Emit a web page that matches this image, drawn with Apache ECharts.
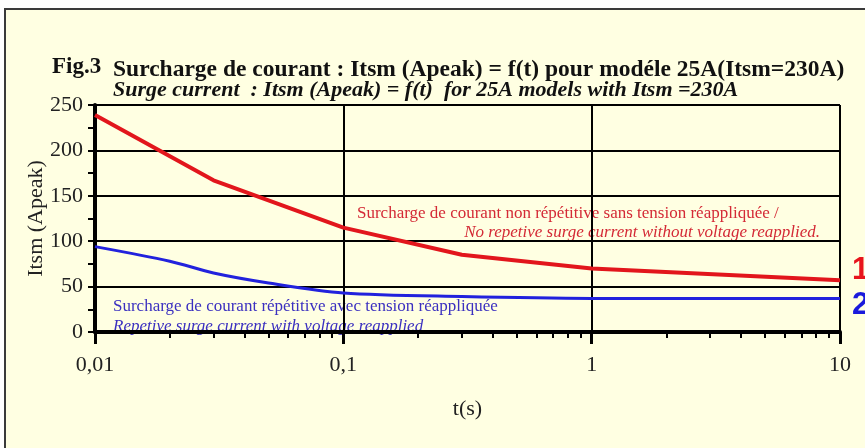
<!DOCTYPE html>
<html>
<head>
<meta charset="utf-8">
<script src="https://cdn.jsdelivr.net/npm/echarts@6/dist/echarts.min.js"></script>
<style>
  html, body { margin: 0; padding: 0; background: #fff; }
  #chart { width: 865px; height: 448px; }
</style>
</head>
<body>
<div id="chart"></div>
<script>
// curve 1 : non repetitive surge current (red)
var curve1 = [[0.01, 239], [0.03, 167], [0.1, 115], [0.3, 85], [1, 70], [10, 57]];
// curve 2 : repetitive surge current (blue)
var curve2 = [[0.01, 94], [0.02, 78], [0.03, 65], [0.05, 54], [0.1, 43], [0.3, 39], [1, 37], [10, 37]];
var xTickLabels = ['0,01', '0,1', '1', '10'];
var xMinorTicks = [0.02, 0.03, 0.04, 0.05, 0.06, 0.07, 0.08, 0.09,
	0.2, 0.3, 0.4, 0.5, 0.6, 0.7, 0.8, 0.9,
	2, 3, 4, 5, 6, 7, 8, 9];

var serif = '"Liberation Serif", "Times New Roman", serif';
var red = '#e2161c';
var blue = '#2222dd';

var myChart = echarts.init(document.getElementById('chart'), null, { renderer: 'canvas' });
var option = {
	backgroundColor: '#fff',
	animation: false,
	grid: {
		left: 95,
		right: 25,
		top: 105,
		bottom: 116
	},
	graphic: [
		{
			type: 'rect', z: -10,
			shape: { x: 5, y: 9, width: 900, height: 500 },
			style: { fill: '#ffffe2', stroke: '#3a3a3a', lineWidth: 2 }
		},
		{
			type: 'text', left: 52, top: 56, z: 5,
			style: { text: 'Fig.3', font: 'bold 23px ' + serif, fill: '#111' }
		},
		{
			type: 'text', left: 113, top: 58, z: 5,
			style: { text: 'Surcharge de courant : Itsm (Apeak) = f(t) pour modéle 25A(Itsm=230A)', font: 'bold 23.5px ' + serif, fill: '#111' }
		},
		{
			type: 'text', left: 113, top: 79, z: 5,
			style: { text: 'Surge current  : Itsm (Apeak) = f(t)  for 25A models with Itsm =230A', font: 'italic bold 22px ' + serif, fill: '#111' }
		},
		{
			type: 'text', left: 357, top: 205, z: -1,
			style: { text: 'Surcharge de courant non répétitive sans tension réappliquée /', font: '17px ' + serif, fill: '#d42a36' }
		},
		{
			type: 'text', right: 45, top: 224, z: -1,
			style: { text: 'No repetive surge current without voltage reapplied.', font: 'italic 17px ' + serif, fill: '#d42a36' }
		},
		{
			type: 'text', left: 113, top: 298, z: -1,
			style: { text: 'Surcharge de courant répétitive avec tension réappliquée', font: '17px ' + serif, fill: '#3b30c0' }
		},
		{
			type: 'text', left: 113, top: 318, z: -1,
			style: { text: 'Repetive surge current with voltage reapplied', font: 'italic 17px ' + serif, fill: '#3b30c0' }
		}
	],
	xAxis: [
		{
			type: 'log',
			logBase: 10,
			min: 0.01,
			max: 10,
			name: 't(s)',
			nameLocation: 'middle',
			nameGap: 66,
			nameTextStyle: { fontFamily: serif, fontSize: 22, color: '#222' },
			axisLine: { lineStyle: { color: '#000', width: 4 } },
			axisTick: { length: 12, lineStyle: { color: '#000', width: 3 } },
			axisLabel: {
				margin: 22,
				fontFamily: serif, fontSize: 22, color: '#222',
				formatter: function (value, index) {
					return xTickLabels[index];
				}
			},
			splitLine: { show: true, lineStyle: { color: '#000', width: 2 } }
		},
		{
			type: 'log',
			logBase: 10,
			min: 0.01,
			max: 10,
			position: 'bottom',
			axisLine: { show: false },
			axisLabel: { show: false },
			axisTick: { show: true, length: 6, customValues: xMinorTicks, lineStyle: { color: '#000', width: 2 } },
			splitLine: { show: false }
		}
	],
	yAxis: {
		type: 'value',
		min: 0,
		max: 250,
		interval: 50,
		name: 'Itsm (Apeak)',
		nameLocation: 'middle',
		nameGap: 48,
		nameMoveOverlap: false,
		nameTextStyle: { fontFamily: serif, fontSize: 22, color: '#222' },
		axisLine: { show: true, lineStyle: { color: '#000', width: 4 } },
		axisTick: { show: true, length: 7, lineStyle: { color: '#000', width: 2 } },
		minorTick: { show: true, splitNumber: 2, length: 7, lineStyle: { color: '#000', width: 2 } },
		axisLabel: { margin: 12, fontFamily: serif, fontSize: 22, color: '#222' },
		splitLine: { show: true, lineStyle: { color: '#000', width: 2 } }
	},
	series: [
		{
			name: '1',
			type: 'line',
			data: curve1,
			showSymbol: false,
			lineStyle: { color: red, width: 4 },
			z: 10,
			endLabel: {
				show: true,
				formatter: '1',
				offset: [4, -10],
				color: '#e8141c',
				fontFamily: '"Liberation Sans", Arial, sans-serif',
				fontWeight: 'bold',
				fontSize: 31
			}
		},
		{
			name: '2',
			type: 'line',
			data: curve2,
			smooth: 0.3,
			showSymbol: false,
			lineStyle: { color: blue, width: 3 },
			z: 9,
			endLabel: {
				show: true,
				formatter: '2',
				offset: [4, 7],
				color: '#1a1adc',
				fontFamily: '"Liberation Sans", Arial, sans-serif',
				fontWeight: 'bold',
				fontSize: 31
			}
		}
	]
};

myChart.setOption(option);
</script>
</body>
</html>
